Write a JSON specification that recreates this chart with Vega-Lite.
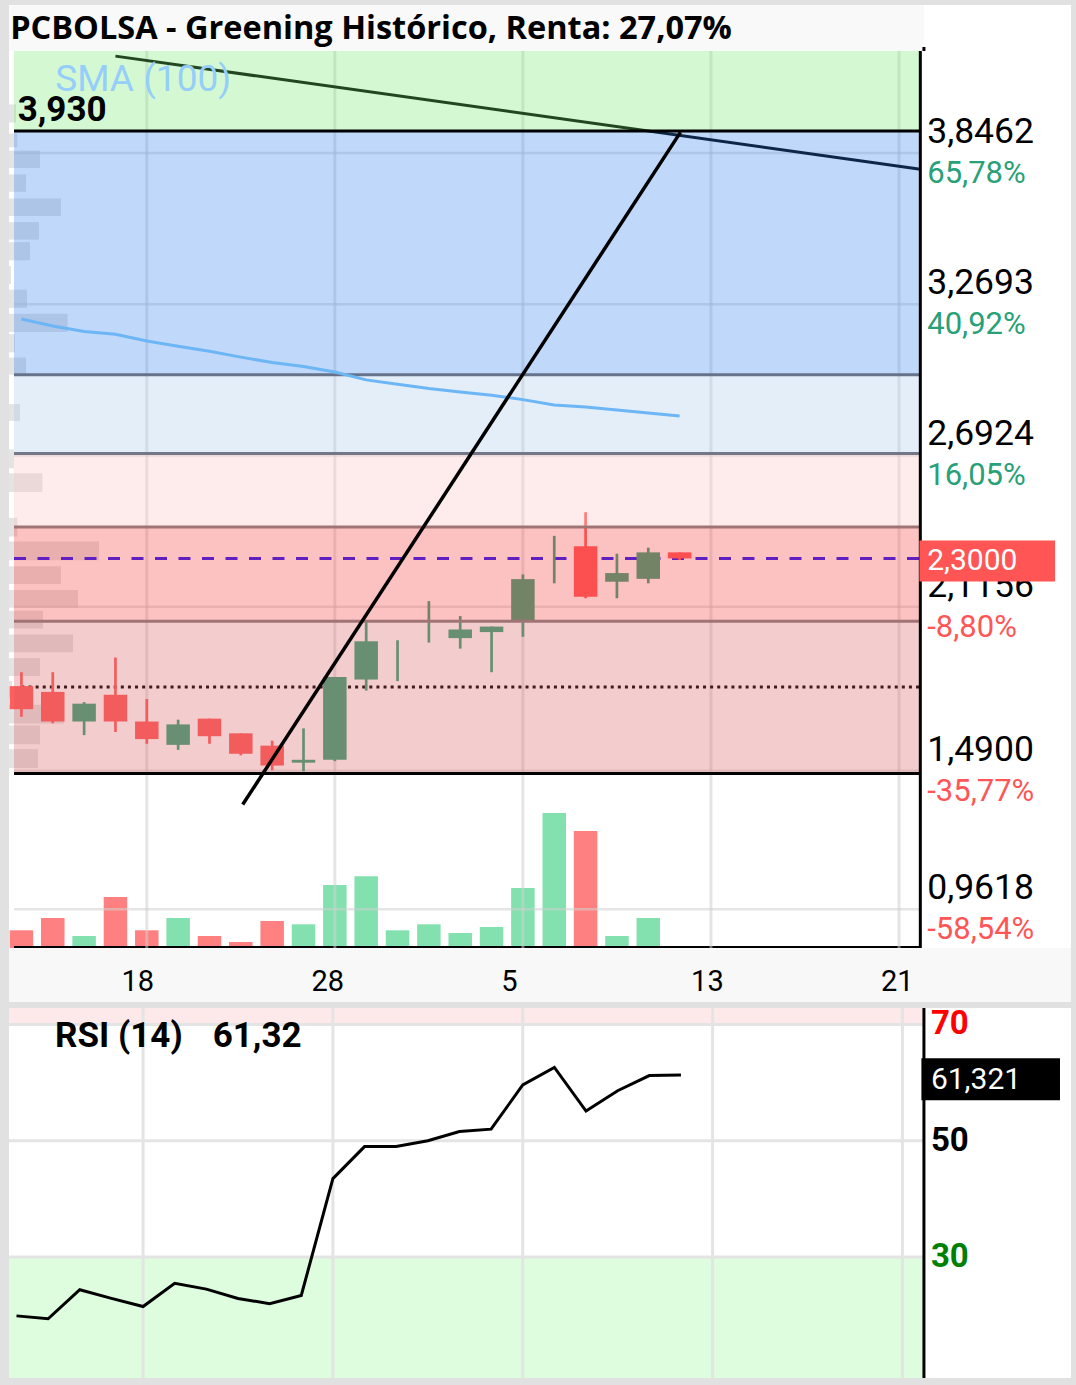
{
  "$schema": "https://vega.github.io/schema/vega-lite/v6.json",
  "background": "#e1e1e1",
  "padding": {"left": 7, "top": 5, "right": 7, "bottom": 7},
  "bounds": "flush",
  "spacing": 0,
  "resolve": {"scale": {"x": "independent", "y": "independent", "fill": "independent", "stroke": "independent", "color": "independent", "opacity": "independent"}},
  "config": {
    "view": {"stroke": null},
    "text": {"font": "Roboto"},
    "locale": {"number": {"decimal": ",", "thousands": ".", "grouping": [3], "currency": ["", " €"], "minus": "-"}}
  },
  "datasets": {
    "bars": [
      {"i": 0, "o": 1.813, "h": 1.866, "l": 1.696, "c": 1.725, "v": 17700, "sma": 3.2127, "rsi": 19.9},
      {"i": 1, "o": 1.791, "h": 1.866, "l": 1.671, "c": 1.678, "v": 30000, "sma": 3.1863, "rsi": 19.4},
      {"i": 2, "o": 1.678, "h": 1.752, "l": 1.626, "c": 1.746, "v": 12000, "sma": 3.1656, "rsi": 24.4},
      {"i": 3, "o": 1.780, "h": 1.922, "l": 1.638, "c": 1.678, "v": 51000, "sma": 3.1550, "rsi": 22.9},
      {"i": 4, "o": 1.678, "h": 1.764, "l": 1.593, "c": 1.611, "v": 17700, "sma": 3.1287, "rsi": 21.5},
      {"i": 5, "o": 1.589, "h": 1.685, "l": 1.570, "c": 1.667, "v": 30000, "sma": 3.1090, "rsi": 25.5},
      {"i": 6, "o": 1.689, "h": 1.689, "l": 1.593, "c": 1.622, "v": 12000, "sma": 3.0898, "rsi": 24.5},
      {"i": 7, "o": 1.633, "h": 1.633, "l": 1.549, "c": 1.555, "v": 6000, "sma": 3.0676, "rsi": 22.9},
      {"i": 8, "o": 1.586, "h": 1.605, "l": 1.492, "c": 1.510, "v": 27000, "sma": 3.0468, "rsi": 22.0},
      {"i": 9, "o": 1.521, "h": 1.652, "l": 1.488, "c": 1.532, "v": 23700, "sma": 3.0317, "rsi": 23.4},
      {"i": 10, "o": 1.532, "h": 1.848, "l": 1.527, "c": 1.848, "v": 63000, "sma": 3.0110, "rsi": 43.5},
      {"i": 11, "o": 1.838, "h": 2.060, "l": 1.796, "c": 1.984, "v": 71700, "sma": 2.9808, "rsi": 49.0},
      {"i": 12, "o": 1.932, "h": 1.988, "l": 1.832, "c": 1.932, "v": 17700, "sma": 2.9639, "rsi": 49.0},
      {"i": 13, "o": 2.050, "h": 2.137, "l": 1.979, "c": 2.050, "v": 23700, "sma": 2.9480, "rsi": 50.0},
      {"i": 14, "o": 1.996, "h": 2.080, "l": 1.956, "c": 2.029, "v": 15000, "sma": 2.9348, "rsi": 51.6},
      {"i": 15, "o": 2.019, "h": 2.040, "l": 1.866, "c": 2.040, "v": 21000, "sma": 2.9224, "rsi": 52.0},
      {"i": 16, "o": 2.064, "h": 2.239, "l": 2.001, "c": 2.221, "v": 60000, "sma": 2.9054, "rsi": 59.6},
      {"i": 17, "o": 2.282, "h": 2.386, "l": 2.205, "c": 2.282, "v": 135000, "sma": 2.8847, "rsi": 62.6},
      {"i": 18, "o": 2.346, "h": 2.476, "l": 2.148, "c": 2.154, "v": 117000, "sma": 2.8771, "rsi": 55.1},
      {"i": 19, "o": 2.211, "h": 2.318, "l": 2.148, "c": 2.244, "v": 12000, "sma": 2.8658, "rsi": 58.6},
      {"i": 20, "o": 2.222, "h": 2.341, "l": 2.205, "c": 2.323, "v": 30000, "sma": 2.8545, "rsi": 61.2},
      {"i": 21, "o": 2.323, "h": 2.323, "l": 2.294, "c": 2.300, "v": 0, "sma": 2.8432, "rsi": 61.321}
    ],
    "ticks": [
      {"i": 4, "d": "18"}, {"i": 10, "d": "28"}, {"i": 16, "d": "5"}, {"i": 22, "d": "13"}, {"i": 28, "d": "21"}
    ],
    "levels": [
      {"p": 3.8462, "r": 0.6578}, {"p": 3.2693, "r": 0.4092}, {"p": 2.6924, "r": 0.1605},
      {"p": 2.1156, "r": -0.088}, {"p": 1.49, "r": -0.3577}, {"p": 0.9618, "r": -0.5854}
    ],
    "zones": [
      {"z": "a", "lo": 3.93, "hi": 4.4},
      {"z": "b", "lo": 3.0, "hi": 3.93},
      {"z": "c", "lo": 2.70, "hi": 3.0},
      {"z": "d", "lo": 2.42, "hi": 2.70},
      {"z": "e", "lo": 2.06, "hi": 2.42},
      {"z": "f", "lo": 1.48, "hi": 2.06}
    ],
    "bounds": [
      {"p": 3.0, "k": "s"}, {"p": 2.70, "k": "g"}, {"p": 2.42, "k": "r"}, {"p": 2.06, "k": "r"},
      {"p": 3.93, "k": "k"}, {"p": 1.48, "k": "k"}
    ],
    "trend": [{"i": 3, "p": 4.2153}, {"i": 28.68, "p": 3.784}],
    "diag": [{"i": 7.06, "p": 1.3613}, {"i": 21.03, "p": 3.9254}],
    "profile": [
      {"lo": 3.962, "hi": 4.031, "pv": 0.7}, {"lo": 3.8677, "hi": 3.9205, "pv": 0.83},
      {"lo": 3.7886, "hi": 3.855, "pv": 3.1}, {"lo": 3.698, "hi": 3.7644, "pv": 1.7},
      {"lo": 3.6061, "hi": 3.6728, "pv": 5.2}, {"lo": 3.5156, "hi": 3.5823, "pv": 3.0},
      {"lo": 3.4364, "hi": 3.5058, "pv": 2.1}, {"lo": 3.3459, "hi": 3.4153, "pv": 0.2},
      {"lo": 3.2554, "hi": 3.3248, "pv": 1.8}, {"lo": 3.1638, "hi": 3.2327, "pv": 5.86},
      {"lo": 3.0857, "hi": 3.1551, "pv": 0.6}, {"lo": 3.0005, "hi": 3.0657, "pv": 1.7},
      {"lo": 2.8244, "hi": 2.8885, "pv": 1.1}, {"lo": 2.6434, "hi": 2.715, "pv": 0.5},
      {"lo": 2.5529, "hi": 2.6245, "pv": 3.34}, {"lo": 2.3832, "hi": 2.4548, "pv": 0.83},
      {"lo": 2.2927, "hi": 2.3643, "pv": 9.0}, {"lo": 2.2022, "hi": 2.27, "pv": 5.2},
      {"lo": 2.1117, "hi": 2.1796, "pv": 6.9}, {"lo": 2.0325, "hi": 2.1004, "pv": 3.4},
      {"lo": 1.9421, "hi": 2.0099, "pv": 6.4}, {"lo": 1.8516, "hi": 1.9194, "pv": 3.1},
      {"lo": 1.7686, "hi": 1.8327, "pv": 0.3}, {"lo": 1.6706, "hi": 1.7422, "pv": 5.5},
      {"lo": 1.5914, "hi": 1.663, "pv": 3.1}, {"lo": 1.5009, "hi": 1.5725, "pv": 2.9}
    ],
    "rsiZones": [{"z": "ob", "lo": 70, "hi": 80}, {"z": "os", "lo": 0, "hi": 30}],
    "rsiLevels": [{"r": 70}, {"r": 50}, {"r": 30}]
  },
  "vconcat": [
    {
      "width": 1062,
      "height": 46,
      "view": {"fill": "white"},
      "data": {"values": [{}]},
      "layer": [
        {
          "mark": {"type": "rect", "color": "#f9f9f9"},
          "encoding": {
            "x": {"datum": -0.237, "type": "quantitative", "scale": {"domain": [-0.237, 33.328], "nice": false, "zero": false}, "axis": null},
            "x2": {"datum": 28.68},
            "y": {"datum": 0, "type": "quantitative", "scale": {"domain": [0, 46], "nice": false}, "axis": null},
            "y2": {"datum": 46}
          }
        },
        {
          "mark": {"type": "rule", "color": "black", "strokeWidth": 3},
          "encoding": {
            "x": {"datum": 28.68, "type": "quantitative", "scale": {"domain": [-0.237, 33.328], "nice": false, "zero": false}, "axis": null},
            "y": {"datum": 0, "type": "quantitative", "scale": {"domain": [0, 46], "nice": false}, "axis": null},
            "y2": {"datum": 4}
          }
        },
        {
          "mark": {"type": "text", "text": "PCBOLSA - Greening Histórico, Renta: 27,07%", "font": "Open Sans", "fontWeight": "bold", "fontSize": 32.5, "align": "left", "baseline": "middle", "color": "black"},
          "encoding": {
            "x": {"datum": -0.2, "type": "quantitative", "scale": {"domain": [-0.237, 33.328], "nice": false, "zero": false}, "axis": null},
            "y": {"datum": 22, "type": "quantitative", "scale": {"domain": [0, 46], "nice": false}, "axis": null}
          }
        }
      ]
    },
    {
      "width": 1062,
      "height": 897,
      "view": {"fill": "white"},
      "resolve": {"scale": {"x": "independent", "y": "independent"}},
      "layer": [
        {
          "data": {"name": "bars"},
          "layer": [
            {
              "mark": {"type": "bar", "width": 23.5, "clip": true, "orient": "vertical"},
              "encoding": {
                "x": {"field": "i", "type": "quantitative", "scale": {"domain": [-0.237, 33.328], "nice": false, "zero": false}, "axis": null},
                "y": {"field": "v", "type": "quantitative", "scale": {"domain": [0, 897000], "nice": false}, "axis": null},
                "color": {"condition": {"test": "datum.c < datum.o", "value": "#ff8080"}, "value": "#82e1af"}
              }
            },
            {
              "mark": {"type": "rule", "color": "black", "strokeWidth": 3},
              "encoding": {
                "x": {"datum": -0.237, "type": "quantitative", "scale": {"domain": [-0.237, 33.328], "nice": false, "zero": false}, "axis": null},
                "x2": {"datum": 28.68},
                "y": {"datum": 0, "type": "quantitative", "scale": {"domain": [0, 897000], "nice": false}, "axis": null}
              }
            }
          ]
        },
        {
          "data": {"name": "profile"},
          "mark": {"type": "bar", "color": "#e4e4e4", "orient": "horizontal"},
          "encoding": {
            "x": {"field": "pv", "type": "quantitative", "scale": {"domain": [0, 106.2], "nice": false}, "axis": null},
            "y": {"field": "lo", "type": "quantitative", "scale": {"domain": [0.8334, 4.2158], "nice": false, "zero": false}, "axis": null},
            "y2": {"field": "hi"}
          }
        },
        {
          "layer": [
            {
              "data": {"name": "ticks"},
              "mark": {"type": "rule", "color": "#d0d0d0", "opacity": 0.55, "strokeWidth": 3},
              "encoding": {
                "x": {"field": "i", "type": "quantitative", "scale": {"domain": [-0.237, 33.328], "nice": false, "zero": false}, "axis": null}
              }
            },
            {
              "data": {"name": "levels"},
              "mark": {"type": "rule", "color": "#d0d0d0", "opacity": 0.55, "strokeWidth": 2.5},
              "encoding": {
                "x": {"datum": -0.237, "type": "quantitative", "scale": {"domain": [-0.237, 33.328], "nice": false, "zero": false}, "axis": null},
                "x2": {"datum": 28.68},
                "y": {"field": "p", "type": "quantitative", "scale": {"domain": [0.8334, 4.2158], "nice": false, "zero": false}, "axis": null}
              }
            },
            {
              "data": {"name": "trend"},
              "mark": {"type": "line", "color": "black", "strokeWidth": 3, "clip": true},
              "encoding": {
                "x": {"field": "i", "type": "quantitative", "scale": {"domain": [-0.237, 33.328], "nice": false, "zero": false}, "axis": null},
                "y": {"field": "p", "type": "quantitative", "scale": {"domain": [0.8334, 4.2158], "nice": false, "zero": false}, "axis": null}
              }
            },
            {
              "data": {"values": [{}]},
              "mark": {"type": "rule", "color": "black", "strokeWidth": 3, "strokeDash": [3, 4.1]},
              "encoding": {
                "x": {"datum": 0, "type": "quantitative", "scale": {"domain": [-0.237, 33.328], "nice": false, "zero": false}, "axis": null},
                "x2": {"datum": 28.68},
                "y": {"datum": 1.81, "type": "quantitative", "scale": {"domain": [0.8334, 4.2158], "nice": false, "zero": false}, "axis": null}
              }
            },
            {
              "data": {"name": "bars"},
              "transform": [{"filter": "datum.i == 21"}],
              "mark": {"type": "rule", "color": "#2019ff", "strokeWidth": 3, "strokeDash": [12, 11.5]},
              "encoding": {
                "x": {"datum": -0.237, "type": "quantitative", "scale": {"domain": [-0.237, 33.328], "nice": false, "zero": false}, "axis": null},
                "x2": {"datum": 28.68},
                "y": {"field": "c", "type": "quantitative", "scale": {"domain": [0.8334, 4.2158], "nice": false, "zero": false}, "axis": null}
              }
            },
            {
              "data": {"name": "bars"},
              "mark": {"type": "rule", "strokeWidth": 2.7, "clip": true},
              "encoding": {
                "x": {"field": "i", "type": "quantitative", "scale": {"domain": [-0.237, 33.328], "nice": false, "zero": false}, "axis": null},
                "y": {"field": "l", "type": "quantitative", "scale": {"domain": [0.8334, 4.2158], "nice": false, "zero": false}, "axis": null},
                "y2": {"field": "h"},
                "color": {"condition": {"test": "datum.c < datum.o", "value": "#ff5e5e"}, "value": "#3aa67d"}
              }
            },
            {
              "data": {"name": "bars"},
              "mark": {"type": "bar", "width": 23.5, "clip": true},
              "encoding": {
                "x": {"field": "i", "type": "quantitative", "scale": {"domain": [-0.237, 33.328], "nice": false, "zero": false}, "axis": null},
                "y": {"field": "o", "type": "quantitative", "scale": {"domain": [0.8334, 4.2158], "nice": false, "zero": false}, "axis": null},
                "y2": {"field": "c"},
                "color": {"condition": {"test": "datum.c < datum.o", "value": "#ff5e5e"}, "value": "#3aa67d"}
              }
            },
            {
              "data": {"name": "zones"},
              "mark": {"type": "rect", "clip": true},
              "encoding": {
                "x": {"datum": -0.237, "type": "quantitative", "scale": {"domain": [-0.237, 33.328], "nice": false, "zero": false}, "axis": null},
                "x2": {"datum": 28.68},
                "y": {"field": "lo", "type": "quantitative", "scale": {"domain": [0.8334, 4.2158], "nice": false, "zero": false}, "axis": null},
                "y2": {"field": "hi"},
                "fill": {"field": "z", "type": "nominal", "legend": null, "scale": {"domain": ["a", "b", "c", "d", "e", "f"], "range": ["#70eb69", "#2d7dee", "#a2c6eb", "#f8c0bc", "#f53232", "#d85a5a"]}},
                "opacity": {"field": "z", "type": "nominal", "legend": null, "scale": {"domain": ["a", "b", "c", "d", "e", "f"], "range": [0.3, 0.3, 0.3, 0.3, 0.2, 0.43]}}
              }
            },
            {
              "data": {"name": "bounds"},
              "mark": {"type": "rule", "strokeWidth": 3},
              "encoding": {
                "x": {"datum": -0.237, "type": "quantitative", "scale": {"domain": [-0.237, 33.328], "nice": false, "zero": false}, "axis": null},
                "x2": {"datum": 28.68},
                "y": {"field": "p", "type": "quantitative", "scale": {"domain": [0.8334, 4.2158], "nice": false, "zero": false}, "axis": null},
                "stroke": {"field": "k", "type": "nominal", "legend": null, "scale": {"domain": ["s", "g", "r", "k"], "range": ["#66738a", "#747886", "#a07474", "#000000"]}}
              }
            },
            {
              "data": {"name": "bars"},
              "mark": {"type": "line", "color": "#6cb6f5", "strokeWidth": 3},
              "encoding": {
                "x": {"field": "i", "type": "quantitative", "scale": {"domain": [-0.237, 33.328], "nice": false, "zero": false}, "axis": null},
                "y": {"field": "sma", "type": "quantitative", "scale": {"domain": [0.8334, 4.2158], "nice": false, "zero": false}, "axis": null}
              }
            },
            {
              "data": {"name": "diag"},
              "mark": {"type": "line", "color": "black", "strokeWidth": 3.5},
              "encoding": {
                "x": {"field": "i", "type": "quantitative", "scale": {"domain": [-0.237, 33.328], "nice": false, "zero": false}, "axis": null},
                "y": {"field": "p", "type": "quantitative", "scale": {"domain": [0.8334, 4.2158], "nice": false, "zero": false}, "axis": null}
              }
            },
            {
              "data": {"values": [{}]},
              "mark": {"type": "rule", "color": "black", "strokeWidth": 3},
              "encoding": {
                "x": {"datum": 28.68, "type": "quantitative", "scale": {"domain": [-0.237, 33.328], "nice": false, "zero": false}, "axis": null}
              }
            },
            {
              "data": {"values": [{}]},
              "mark": {"type": "text", "text": "SMA (100)", "fontSize": 37, "color": "#96cefa", "align": "left", "baseline": "middle"},
              "encoding": {
                "x": {"datum": 1.08, "type": "quantitative", "scale": {"domain": [-0.237, 33.328], "nice": false, "zero": false}, "axis": null},
                "y": {"datum": 4.1253, "type": "quantitative", "scale": {"domain": [0.8334, 4.2158], "nice": false, "zero": false}, "axis": null}
              }
            },
            {
              "data": {"name": "zones"},
              "transform": [{"filter": "datum.z == 'a'"}],
              "mark": {"type": "text", "fontSize": 35, "fontWeight": "bold", "color": "black", "align": "left", "baseline": "middle", "dy": -21},
              "encoding": {
                "x": {"datum": -0.12, "type": "quantitative", "scale": {"domain": [-0.237, 33.328], "nice": false, "zero": false}, "axis": null},
                "y": {"field": "lo", "type": "quantitative", "scale": {"domain": [0.8334, 4.2158], "nice": false, "zero": false}, "axis": null},
                "text": {"field": "lo", "type": "quantitative", "format": ".3f"}
              }
            },
            {
              "data": {"name": "levels"},
              "mark": {"type": "text", "fontSize": 35.5, "color": "black", "align": "left", "baseline": "middle", "dy": -21},
              "encoding": {
                "x": {"datum": 28.9, "type": "quantitative", "scale": {"domain": [-0.237, 33.328], "nice": false, "zero": false}, "axis": null},
                "y": {"field": "p", "type": "quantitative", "scale": {"domain": [0.8334, 4.2158], "nice": false, "zero": false}, "axis": null},
                "text": {"field": "p", "type": "quantitative", "format": ".4f"}
              }
            },
            {
              "data": {"name": "levels"},
              "mark": {"type": "text", "fontSize": 31, "align": "left", "baseline": "middle", "dy": 21},
              "encoding": {
                "x": {"datum": 28.9, "type": "quantitative", "scale": {"domain": [-0.237, 33.328], "nice": false, "zero": false}, "axis": null},
                "y": {"field": "p", "type": "quantitative", "scale": {"domain": [0.8334, 4.2158], "nice": false, "zero": false}, "axis": null},
                "text": {"field": "r", "type": "quantitative", "format": ".2%"},
                "color": {"condition": {"test": "datum.r >= 0", "value": "#28a078"}, "value": "#ff5555"}
              }
            },
            {
              "data": {"name": "bars"},
              "transform": [{"filter": "datum.i == 21"}],
              "mark": {"type": "bar", "height": 41, "yOffset": 2.5, "color": "#ff5555"},
              "encoding": {
                "x": {"datum": 28.65, "type": "quantitative", "scale": {"domain": [-0.237, 33.328], "nice": false, "zero": false}, "axis": null},
                "x2": {"datum": 32.98},
                "y": {"field": "c", "type": "quantitative", "scale": {"domain": [0.8334, 4.2158], "nice": false, "zero": false}, "axis": null}
              }
            },
            {
              "data": {"name": "bars"},
              "transform": [{"filter": "datum.i == 21"}],
              "mark": {"type": "text", "fontSize": 30, "color": "white", "align": "left", "baseline": "middle", "dy": 3},
              "encoding": {
                "x": {"datum": 28.9, "type": "quantitative", "scale": {"domain": [-0.237, 33.328], "nice": false, "zero": false}, "axis": null},
                "y": {"field": "c", "type": "quantitative", "scale": {"domain": [0.8334, 4.2158], "nice": false, "zero": false}, "axis": null},
                "text": {"field": "c", "type": "quantitative", "format": ".4f"}
              }
            }
          ]
        }
      ]
    },
    {
      "width": 1062,
      "height": 54,
      "view": {"fill": "#f8f8f8"},
      "data": {"name": "ticks"},
      "mark": {"type": "text", "fontSize": 29, "align": "left", "baseline": "alphabetic", "dx": -21.5, "color": "black"},
      "encoding": {
        "x": {"field": "i", "type": "quantitative", "scale": {"domain": [-0.237, 33.328], "nice": false, "zero": false}, "axis": null},
        "y": {"datum": 11, "type": "quantitative", "scale": {"domain": [0, 54], "nice": false}, "axis": null},
        "text": {"field": "d"}
      }
    },
    {
      "width": 1062,
      "height": 6,
      "view": {"fill": "#e1e1e1"},
      "data": {"values": [{}]},
      "mark": {"type": "text", "text": ""},
      "encoding": {
        "x": {"datum": 0, "type": "quantitative", "scale": {"domain": [-0.237, 33.328], "nice": false, "zero": false}, "axis": null}
      }
    },
    {
      "width": 1062,
      "height": 370,
      "view": {"fill": "white"},
      "layer": [
        {
          "data": {"name": "rsiZones"},
          "mark": {"type": "rect", "clip": true},
          "encoding": {
            "x": {"datum": -0.237, "type": "quantitative", "scale": {"domain": [-0.237, 33.328], "nice": false, "zero": false}, "axis": null},
            "x2": {"datum": 28.68},
            "y": {"field": "lo", "type": "quantitative", "scale": {"domain": [10.08, 71.96], "nice": false, "zero": false}, "axis": null},
            "y2": {"field": "hi"},
            "fill": {"field": "z", "type": "nominal", "legend": null, "scale": {"domain": ["ob", "os"], "range": ["#fde9e9", "#defdde"]}}
          }
        },
        {
          "data": {"name": "ticks"},
          "mark": {"type": "rule", "color": "#e4e4e4", "strokeWidth": 3},
          "encoding": {
            "x": {"field": "i", "type": "quantitative", "scale": {"domain": [-0.237, 33.328], "nice": false, "zero": false}, "axis": null}
          }
        },
        {
          "data": {"name": "rsiLevels"},
          "mark": {"type": "rule", "color": "#e4e4e4", "strokeWidth": 3},
          "encoding": {
            "x": {"datum": -0.237, "type": "quantitative", "scale": {"domain": [-0.237, 33.328], "nice": false, "zero": false}, "axis": null},
            "x2": {"datum": 28.68},
            "y": {"field": "r", "type": "quantitative", "scale": {"domain": [10.08, 71.96], "nice": false, "zero": false}, "axis": null}
          }
        },
        {
          "data": {"name": "bars"},
          "mark": {"type": "line", "color": "black", "strokeWidth": 3},
          "encoding": {
            "x": {"field": "i", "type": "quantitative", "scale": {"domain": [-0.237, 33.328], "nice": false, "zero": false}, "axis": null},
            "y": {"field": "rsi", "type": "quantitative", "scale": {"domain": [10.08, 71.96], "nice": false, "zero": false}, "axis": null}
          }
        },
        {
          "data": {"values": [{}]},
          "mark": {"type": "rule", "color": "black", "strokeWidth": 3},
          "encoding": {
            "x": {"datum": 28.68, "type": "quantitative", "scale": {"domain": [-0.237, 33.328], "nice": false, "zero": false}, "axis": null}
          }
        },
        {
          "data": {"name": "rsiLevels"},
          "mark": {"type": "text", "fontSize": 33, "fontWeight": "bold", "align": "left", "baseline": "middle", "clip": true},
          "encoding": {
            "x": {"datum": 28.9, "type": "quantitative", "scale": {"domain": [-0.237, 33.328], "nice": false, "zero": false}, "axis": null},
            "y": {"field": "r", "type": "quantitative", "scale": {"domain": [10.08, 71.96], "nice": false, "zero": false}, "axis": null},
            "text": {"field": "r", "type": "quantitative"},
            "color": {"field": "r", "type": "nominal", "legend": null, "scale": {"domain": [70, 50, 30], "range": ["#ff0000", "#000000", "#008000"]}}
          }
        },
        {
          "data": {"values": [{}]},
          "mark": {"type": "text", "text": "RSI (14)", "fontSize": 35, "fontWeight": "bold", "color": "black", "align": "left", "baseline": "middle", "dy": 12},
          "encoding": {
            "x": {"datum": 1.22, "type": "quantitative", "scale": {"domain": [-0.237, 33.328], "nice": false, "zero": false}, "axis": null},
            "y": {"datum": 70, "type": "quantitative", "scale": {"domain": [10.08, 71.96], "nice": false, "zero": false}, "axis": null}
          }
        },
        {
          "data": {"name": "bars"},
          "transform": [{"filter": "datum.i == 21"}],
          "mark": {"type": "text", "fontSize": 35, "fontWeight": "bold", "color": "black", "align": "left", "baseline": "middle", "dy": 12},
          "encoding": {
            "x": {"datum": 6.2, "type": "quantitative", "scale": {"domain": [-0.237, 33.328], "nice": false, "zero": false}, "axis": null},
            "y": {"datum": 70, "type": "quantitative", "scale": {"domain": [10.08, 71.96], "nice": false, "zero": false}, "axis": null},
            "text": {"field": "rsi", "type": "quantitative", "format": ".2f"}
          }
        },
        {
          "data": {"name": "bars"},
          "transform": [{"filter": "datum.i == 21"}],
          "mark": {"type": "bar", "height": 42, "yOffset": 4.4, "color": "black"},
          "encoding": {
            "x": {"datum": 28.6, "type": "quantitative", "scale": {"domain": [-0.237, 33.328], "nice": false, "zero": false}, "axis": null},
            "x2": {"datum": 32.98},
            "y": {"field": "rsi", "type": "quantitative", "scale": {"domain": [10.08, 71.96], "nice": false, "zero": false}, "axis": null}
          }
        },
        {
          "data": {"name": "bars"},
          "transform": [{"filter": "datum.i == 21"}],
          "mark": {"type": "text", "fontSize": 30, "color": "white", "align": "left", "baseline": "middle", "dy": 5},
          "encoding": {
            "x": {"datum": 28.9, "type": "quantitative", "scale": {"domain": [-0.237, 33.328], "nice": false, "zero": false}, "axis": null},
            "y": {"field": "rsi", "type": "quantitative", "scale": {"domain": [10.08, 71.96], "nice": false, "zero": false}, "axis": null},
            "text": {"field": "rsi", "type": "quantitative", "format": ".3f"}
          }
        }
      ]
    }
  ]
}
